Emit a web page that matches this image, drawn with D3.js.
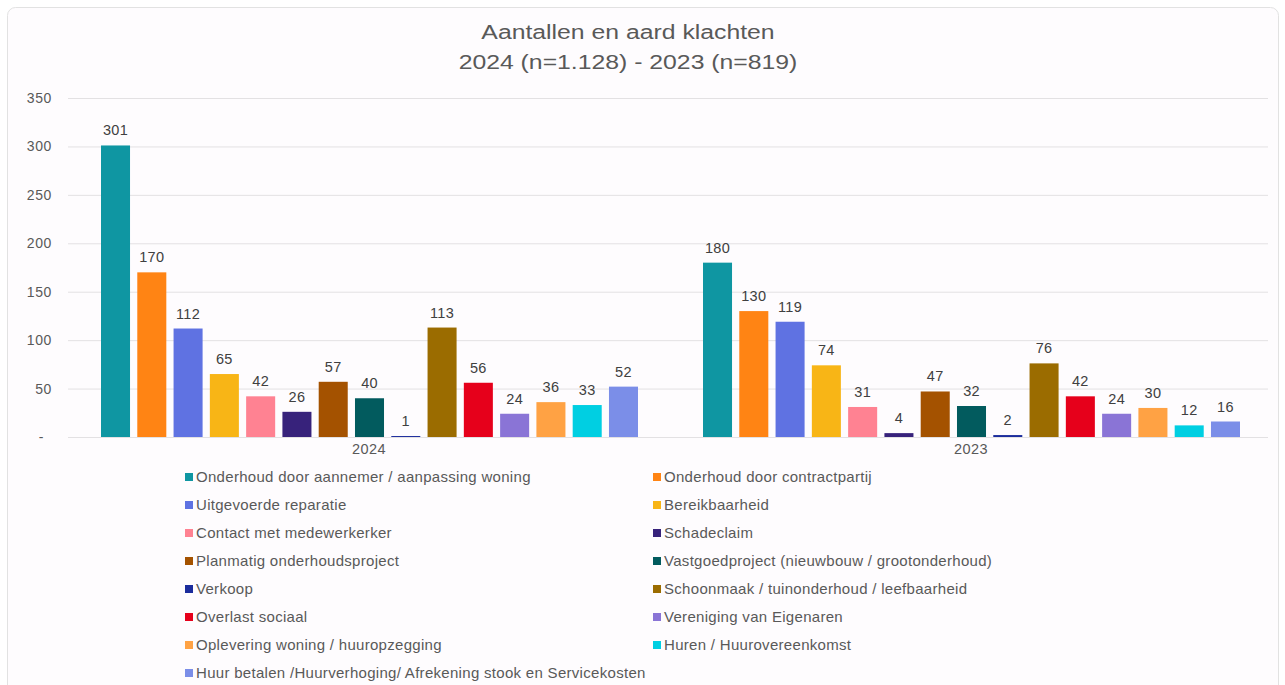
<!DOCTYPE html>
<html>
<head>
<meta charset="utf-8">
<script src="https://cdn.jsdelivr.net/npm/d3@7"></script>
<style>
    body { margin: 0; background: #ffffff; }
    svg { display: block; font-family: "Liberation Sans", Arial, sans-serif; }
</style>
</head>
<body>
<div id="canvas-container"></div>
<script>
// years on the x axis
var years = ["2024", "2023"];

// complaint categories (legend order)
var categories = [
    "Onderhoud door aannemer / aanpassing woning",
    "Onderhoud door contractpartij",
    "Uitgevoerde reparatie",
    "Bereikbaarheid",
    "Contact met medewerkerker",
    "Schadeclaim",
    "Planmatig onderhoudsproject",
    "Vastgoedproject (nieuwbouw / grootonderhoud)",
    "Verkoop",
    "Schoonmaak / tuinonderhoud / leefbaarheid",
    "Overlast sociaal",
    "Vereniging van Eigenaren",
    "Oplevering woning / huuropzegging",
    "Huren / Huurovereenkomst",
    "Huur betalen /Huurverhoging/ Afrekening stook en Servicekosten"
];

var values2024 = [301, 170, 112, 65, 42, 26, 57, 40, 1, 113, 56, 24, 36, 33, 52];
var values2023 = [180, 130, 119, 74, 31, 4, 47, 32, 2, 76, 42, 24, 30, 12, 16];

var colors = [
    "#0f96a2", "#ff8414", "#5f72e2", "#f8b516", "#ff8292",
    "#37227b", "#a45200", "#025b5e", "#1b2c9c", "#9b6c00",
    "#e6001b", "#8a74d6", "#ffa244", "#00cfe2", "#7b8ee8"
];

var yTicks = [0, 50, 100, 150, 200, 250, 300, 350];

var W = 1285, H = 685;

var svg = d3.select("#canvas-container").append("svg")
    .attr("width", W)
    .attr("height", H);

// card
svg.append("rect")
    .attr("x", 7.5).attr("y", 7.5)
    .attr("width", 1271).attr("height", 700)
    .attr("rx", 8)
    .attr("fill", "#fefcfe")
    .attr("stroke", "#e2e2e2");

// title (source looks horizontally stretched)
svg.append("text")
    .attr("transform", "translate(628,39) scale(1.18,1)")
    .attr("text-anchor", "middle")
    .attr("font-size", 21)
    .attr("fill", "#595959")
    .text("Aantallen en aard klachten");
svg.append("text")
    .attr("transform", "translate(628,69) scale(1.18,1)")
    .attr("text-anchor", "middle")
    .attr("font-size", 21)
    .attr("fill", "#595959")
    .text("2024 (n=1.128) - 2023 (n=819)");

var left = 68, right = 1272;
var y = d3.scaleLinear().domain([0, 350]).range([437, 98]);

var x0 = d3.scaleBand().domain(years).range([left, right]).padding(0);
var x1 = d3.scaleBand().domain(d3.range(categories.length))
    .range([33, x0.bandwidth() - 32])
    .paddingInner(0.2).paddingOuter(0);

// gridlines
svg.append("g").selectAll("line")
    .data(yTicks)
    .enter().append("line")
    .attr("x1", left).attr("x2", right - 4)
    .attr("y1", function (d) { return y(d) + 0.5; })
    .attr("y2", function (d) { return y(d) + 0.5; })
    .attr("stroke", "#e3e1e3")
    .attr("stroke-width", 1);

// y axis labels
var yAxis = d3.axisLeft(y).tickValues(yTicks)
    .tickSize(0).tickPadding(0)
    .tickFormat(function (d) { return d == 0 ? "-" : d; });
var gy = svg.append("g").attr("transform", "translate(52,0)").call(yAxis);
gy.select(".domain").remove();
gy.selectAll("text")
    .attr("font-size", 14)
    .attr("letter-spacing", 0.6)
    .attr("fill", "#595959")
    .attr("font-family", "Liberation Sans, Arial, sans-serif");
gy.selectAll(".tick").filter(function (d) { return d == 0; })
    .select("text").attr("dx", -8);

// x axis labels
var xAxis = d3.axisBottom(x0).tickSize(0).tickPadding(0);
var gx = svg.append("g").attr("transform", "translate(0,444)").call(xAxis);
gx.select(".domain").remove();
gx.selectAll("text")
    .attr("font-size", 14.5)
    .attr("letter-spacing", 0.4)
    .attr("fill", "#595959")
    .attr("font-family", "Liberation Sans, Arial, sans-serif");

// bars
var series = { "2024": values2024, "2023": values2023 };

years.forEach(function (yr) {
    var g = svg.append("g").attr("transform", "translate(" + x0(yr) + ",0)");
    var data = series[yr].map(function (v, i) { return { i: i, v: v }; });

    g.selectAll("rect")
        .data(data)
        .enter().append("rect")
        .attr("x", function (d) { return x1(d.i); })
        .attr("y", function (d) { return y(d.v); })
        .attr("width", x1.bandwidth())
        .attr("height", function (d) { return y(0) - y(d.v); })
        .attr("fill", function (d) { return colors[d.i]; });

    g.selectAll("text")
        .data(data)
        .enter().append("text")
        .attr("x", function (d) { return x1(d.i) + x1.bandwidth() / 2; })
        .attr("y", function (d) { return y(d.v) - 10; })
        .attr("text-anchor", "middle")
        .attr("font-size", 14.5)
        .attr("letter-spacing", 0.3)
        .attr("fill", "#404040")
        .text(function (d) { return d.v; });
});

// legend: two columns
var legend = svg.append("g");
var item = legend.selectAll("g")
    .data(categories)
    .enter().append("g")
    .attr("transform", function (d, i) {
        var col = i % 2, row = Math.floor(i / 2);
        return "translate(" + (col == 0 ? 185 : 653) + "," + (477 + row * 28) + ")";
    });

item.append("rect")
    .attr("x", 0).attr("y", -4)
    .attr("width", 8).attr("height", 8)
    .attr("fill", function (d, i) { return colors[i]; });

item.append("text")
    .attr("x", 11).attr("y", 5)
    .attr("font-size", 15)
    .attr("letter-spacing", 0.3)
    .attr("fill", "#595959")
    .text(function (d) { return d; });
</script>
</body>
</html>
